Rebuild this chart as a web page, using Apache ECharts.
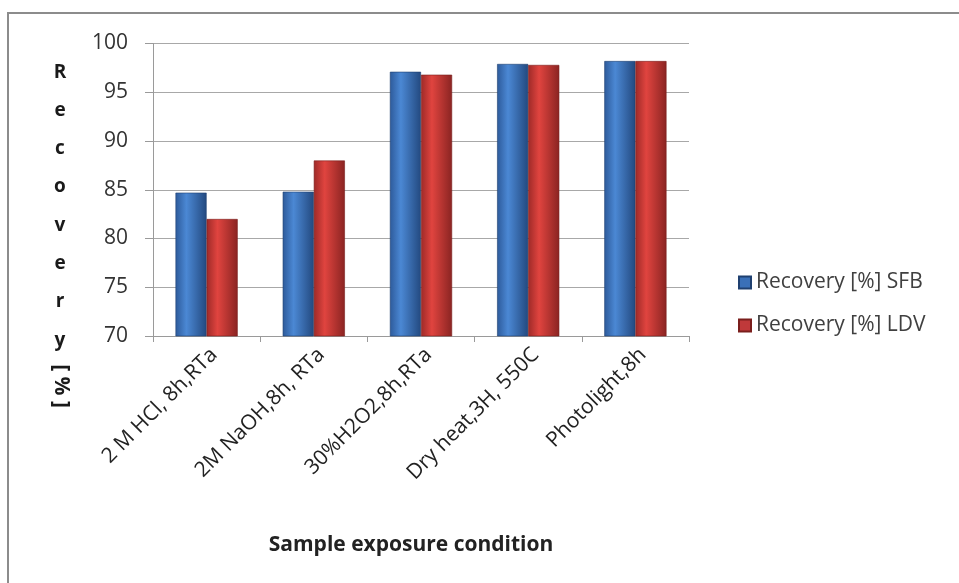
<!DOCTYPE html>
<html>
<head>
<meta charset="utf-8">
<script src="https://cdn.jsdelivr.net/npm/echarts@6/dist/echarts.min.js"></script>
<style>
html,body{margin:0;padding:0;background:#fff;}
#chart{width:959px;height:583px;}
</style>
</head>
<body>
<div id="chart"></div>
<script>
var categories = ['2 M HCl, 8h,RTa', '2M NaOH,8h, RTa', '30%H2O2,8h,RTa', 'Dry heat,3H, 550C', 'Photolight,8h'];
var sfbValues = [84.7, 84.8, 97.1, 97.9, 98.2];
var ldvValues = [82.0, 88.0, 96.8, 97.8, 98.2];
var seriesNames = ['Recovery [%] SFB', 'Recovery [%] LDV'];
var yTitleLetters = ['R','e','c','o','v','e','r','y'];
var yTitleTail = '[ % ]';
var xTitle = 'Sample exposure condition';

var FONT = '"Open Sans", Lato, sans-serif';
var chart = echarts.init(document.getElementById('chart'));

function grad(c1, c2, c3) {
  return new echarts.graphic.LinearGradient(0, 0, 1, 0, [
    {offset: 0, color: c1},
    {offset: 0.35, color: c2},
    {offset: 1, color: c3}
  ]);
}

var option = {
  backgroundColor: '#ffffff',
  animation: false,
  grid: {left: 153, top: 43.5, right: 270, bottom: 247, containLabel: false},
  legend: {
    orient: 'vertical',
    left: 733, top: 267,
    itemWidth: 12, itemHeight: 12, itemGap: 22,
    icon: 'rect',
    textStyle: {fontFamily: FONT, fontSize: 21, color: '#404040'},
    data: [
      {name: seriesNames[0], itemStyle: {color: '#3a70b8'}},
      {name: seriesNames[1], itemStyle: {color: '#c0393a'}}
    ]
  },
  xAxis: {
    type: 'category',
    data: categories,
    axisLine: {lineStyle: {color: '#9a9a9a', width: 1}},
    axisTick: {show: true, length: 6, lineStyle: {color: '#9a9a9a'}},
    axisLabel: {rotate: 45, fontFamily: FONT, fontSize: 21, color: '#222', margin: 8, interval: 0, verticalAlign: 'top'}
  },
  yAxis: {
    type: 'value',
    min: 70, max: 100, interval: 5,
    axisLine: {show: true, lineStyle: {color: '#9a9a9a', width: 1}},
    axisTick: {show: true, length: 8, lineStyle: {color: '#9a9a9a'}},
    axisLabel: {fontFamily: FONT, fontSize: 21, color: '#333', margin: 25},
    splitLine: {lineStyle: {color: '#a8a8a8', width: 1}}
  },
  series: [
    {
      name: seriesNames[0], type: 'bar', data: sfbValues,
      barWidth: '29%', barGap: '0%',
      itemStyle: {color: grad('#2d5a9a', '#4b88d4', '#23497f'), borderColor: '#1f4070', borderWidth: 0.6}
    },
    {
      name: seriesNames[1], type: 'bar', data: ldvValues,
      barWidth: '29%', barGap: '0%',
      itemStyle: {color: grad('#9e2a28', '#e0443f', '#8a2422'), borderColor: '#7a1e1c', borderWidth: 0.6}
    }
  ],
  graphic: [
    {type: 'rect', shape: {x: 8, y: 13, width: 1000, height: 700}, style: {fill: 'none', stroke: '#8c8c8c', lineWidth: 2}, silent: true, z: -1},
    {type: 'text', x: 411, y: 545, style: {text: xTitle, fontFamily: FONT, fontSize: 21, fontWeight: 'bold', fill: '#222', textAlign: 'center', textVerticalAlign: 'middle'}},
    {type: 'text', x: 60, y: 53, style: {text: yTitleLetters.join('\n'), fontFamily: FONT, fontSize: 19, fontWeight: 'bold', fill: '#1a1a1a', textAlign: 'center', textVerticalAlign: 'top', lineHeight: 38.3}, silent: true},
    {type: 'text', x: 61, y: 386, rotation: -Math.PI / 2, style: {text: yTitleTail, fontFamily: FONT, fontSize: 21, fontWeight: 'bold', fill: '#1a1a1a', textAlign: 'center', textVerticalAlign: 'middle'}}
  ]
};
chart.setOption(option);
</script>
</body>
</html>
